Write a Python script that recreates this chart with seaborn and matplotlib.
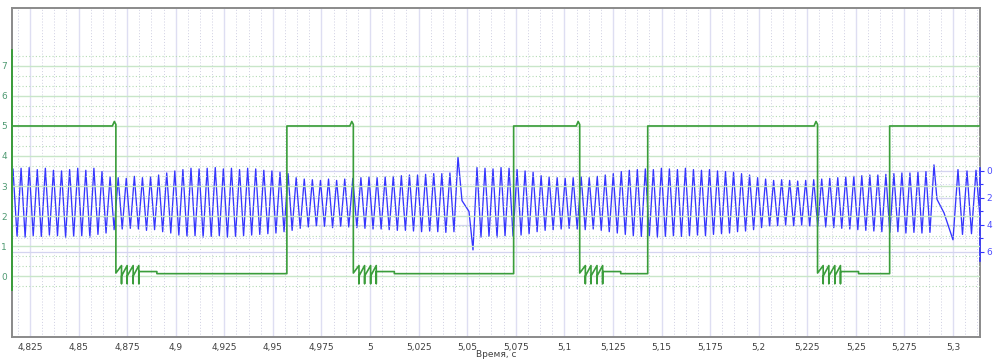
import numpy as np
import pandas as pd
import matplotlib
matplotlib.use("Agg")
import matplotlib.pyplot as plt
import seaborn as sns
from matplotlib.ticker import MultipleLocator, FixedLocator, FuncFormatter

# ---------------- data ----------------
t_min, t_max = 4.81574, 5.3139

# green channel (left axis, V)
green_high = 5.0
green_low = 0.08
green_fall_t = [4.8692, 4.9914, 5.1079, 5.2303]
green_rise_t = [4.9572, 5.0739, 5.1429, 5.2674]
bump_dt = [-0.0018, -0.0008, 0.0]
bump_v = [5.0, 5.15, 5.05]
fall_bottom = 0.1
ring_tooth_dt = [0.0029, 0.0058, 0.0089, 0.0118]
ring_top = 0.35
ring_bottom = -0.25
ring_base = 0.0
ring_settle_v = 0.15
ring_settle_dt = 0.0211

# blue channel (right axis) - tooth peaks / troughs, segment by segment
segA_t = (4.81625, 5.04526)
segA_peaks = [-0.15, -0.2, -0.25, -0.1, -0.2, -0.05, 0.0, -0.1, -0.2, -0.05, -0.2, 0.05,
              0.45, 0.5, 0.55, 0.4, 0.5, 0.45, 0.3, 0.15,
              0.0, -0.1, -0.2, -0.15, -0.2, -0.25, -0.15, -0.2, -0.1, -0.2, -0.15, -0.05, 0.0, 0.1, 0.2,
              0.5, 0.6, 0.65, 0.7, 0.6, 0.7, 0.6, 0.55, 0.5, 0.45,
              0.5, 0.45, 0.4, 0.35, 0.3, 0.3, 0.25, 0.2, 0.2, 0.15,
              -1.05]
segA_troughs = [4.85, 4.9, 4.8, 4.85, 4.75, 4.8, 4.9, 4.85, 4.8, 4.9, 4.7, 4.6,
                4.35, 4.3, 4.25, 4.3, 4.4, 4.35, 4.5, 4.6,
                4.75, 4.85, 4.8, 4.9, 4.85, 4.8, 4.9, 4.85, 4.8, 4.75, 4.7, 4.65, 4.6, 4.5, 4.4,
                4.25, 4.15, 4.1, 4.1, 4.2, 4.1, 4.15, 4.2, 4.25, 4.3,
                4.3, 4.35, 4.4, 4.4, 4.45, 4.5, 4.45, 4.5, 4.55, 4.5]
gapA_t = [5.04732, 5.05092, 5.05298]
gapA_v = [2.2, 3.0, 5.85]

segB_t = (5.05503, 5.29021)
segB_peaks = [-0.25, -0.2, -0.15, -0.25, -0.2, -0.1, 0.0, 0.1,
              0.35, 0.45, 0.5, 0.55, 0.5, 0.45, 0.5, 0.4, 0.3, 0.2,
              0.05, -0.05, -0.1, -0.15, -0.1, -0.2, -0.15, -0.1, -0.2, -0.1, -0.05, -0.1, 0.0, 0.05, 0.1, 0.2, 0.3,
              0.5, 0.6, 0.7, 0.65, 0.7, 0.75, 0.7, 0.65, 0.6, 0.55, 0.5,
              0.45, 0.4, 0.35, 0.3, 0.3, 0.25, 0.2, 0.15, 0.15, 0.1, 0.05,
              -0.45]
segB_troughs = [4.9, 4.85, 4.9, 4.8, 4.85, 4.75, 4.65, 4.5,
                4.4, 4.35, 4.3, 4.25, 4.3, 4.35, 4.3, 4.4, 4.5, 4.6,
                4.7, 4.8, 4.85, 4.8, 4.9, 4.85, 4.8, 4.85, 4.8, 4.75, 4.8, 4.7, 4.65, 4.6, 4.5, 4.45, 4.35,
                4.2, 4.1, 4.05, 4.0, 4.05, 4.0, 4.1, 4.1, 4.15, 4.2, 4.25,
                4.3, 4.35, 4.4, 4.45, 4.5, 4.55, 4.5, 4.6, 4.55, 4.6, 4.55]
gapB_t = [5.29176, 5.29536, 5.30000]
gapB_v = [2.1, 3.1, 5.1]

segC_t = (5.30257, 5.31184)
segC_peaks = [-0.1, 0.0, -0.05]
segC_troughs = [4.7, 4.65]
end_v = 3.4

x_major = 0.025
x_minor_tick = 0.0125
x_minor_grid = 0.00625
left_major = [0, 1, 2, 3, 4, 5, 6, 7]
right_major = [0, 2, 4, 6]
right_minor = [1, 3, 5]
x_label = "Время, с"

# ---------------- build series ----------------
def build_segment(trange, peaks, troughs):
    tp = np.linspace(trange[0], trange[1], len(peaks))
    ts, vs = [], []
    for k in range(len(peaks)):
        ts.append(tp[k]); vs.append(peaks[k])
        if k < len(troughs):
            ts.append((tp[k] + tp[k + 1]) / 2); vs.append(troughs[k])
    return ts, vs

bt, bv = [], []
for seg, gt, gv in [((segA_t, segA_peaks, segA_troughs), gapA_t, gapA_v),
                    ((segB_t, segB_peaks, segB_troughs), gapB_t, gapB_v),
                    ((segC_t, segC_peaks, segC_troughs), [t_max], [end_v])]:
    ts, vs = build_segment(*seg)
    bt += ts + gt
    bv += vs + gv
blue = pd.DataFrame({"t": bt, "v": bv})

gt_, gv_ = [t_min], [green_high]
for f, r in zip(green_fall_t, green_rise_t):
    for dt, v in zip(bump_dt, bump_v):
        gt_.append(f + dt); gv_.append(v)
    gt_.append(f); gv_.append(fall_bottom)
    for i, dt in enumerate(ring_tooth_dt):
        last = i == len(ring_tooth_dt) - 1
        gt_ += [f + dt, f + dt, f + dt]
        gv_ += [ring_top, ring_bottom, ring_settle_v if last else ring_base]
    gt_ += [f + ring_settle_dt, f + ring_settle_dt]
    gv_ += [ring_settle_v, green_low]
    gt_ += [r, r]
    gv_ += [green_low, green_high]
gt_.append(t_max); gv_.append(green_high)
green = pd.DataFrame({"t": gt_, "v": gv_})

# ---------------- plot ----------------
sns.set_theme(style="white")
plt.rcParams["font.family"] = ["DejaVu Sans"]

W, H = 1000, 360
fig = plt.figure(figsize=(W / 100, H / 100), dpi=100)
fig.patch.set_facecolor("white")
pos = [12 / W, 1 - 337 / H, (980 - 12) / W, (337 - 8) / H]

GRAY = "#8a8a8a"
BLUE = "#3535ff"
GREEN = "#3a9d3a"
LGREEN = "#c8e6c8"

# background frame axes (holds the vertical grid)
axf = fig.add_axes(pos, zorder=0)
axf.set_xlim(t_min, t_max)
axf.set_ylim(0, 1)
axf.xaxis.set_major_locator(MultipleLocator(x_major))
axf.xaxis.set_minor_locator(MultipleLocator(x_minor_grid))
axf.grid(which="minor", axis="x", color="#cfcfe2", lw=0.7, ls=(0, (1, 2)))
axf.grid(which="major", axis="x", color="#dedef2", lw=1.0, ls="-")
axf.tick_params(which="both", length=0, labelbottom=False, labelleft=False)
axf.set_yticks([])
for s in axf.spines.values():
    s.set_color(GRAY)
    s.set_linewidth(1.4)

# blue axes (right)
axb = fig.add_axes(pos, zorder=1)
axb.patch.set_visible(False)
sns.lineplot(data=blue, x="t", y="v", ax=axb, color=BLUE, lw=0.95,
             sort=False, estimator=None)
axb.set_xlim(t_min, t_max)
axb.set_ylim(12.30, -12.07)
axb.yaxis.set_major_locator(FixedLocator(right_major))
axb.yaxis.set_minor_locator(FixedLocator(right_minor))
axb.xaxis.set_major_locator(MultipleLocator(x_major))
axb.xaxis.set_minor_locator(MultipleLocator(x_minor_tick))
axb.xaxis.set_major_formatter(FuncFormatter(lambda v, p: f"{round(v, 4):g}".replace(".", ",")))
axb.tick_params(axis="x", which="major", length=3, width=0.8, color="#505050",
                labelsize=6.5, labelcolor="#404040", pad=1, direction="out")
axb.tick_params(axis="x", which="minor", length=2, width=0.8, color="#505050", direction="out")
axb.tick_params(axis="y", which="both", left=False, labelleft=False,
                right=True, labelright=True)
axb.tick_params(axis="y", which="major", length=3, width=0.8, color=BLUE,
                labelsize=6.5, labelcolor="#4a4aff", pad=1.5, direction="out")
axb.tick_params(axis="y", which="minor", length=2, width=0.8, color=BLUE, direction="out")
axb.grid(which="major", axis="y", color="#d4d4f0", lw=0.9, ls="-")
axb.grid(which="minor", axis="y", color="#d0d0ee", lw=0.7, ls=(0, (1, 2)))
for k in ["left", "top", "bottom"]:
    axb.spines[k].set_visible(False)
axb.spines["right"].set_color(BLUE)
axb.spines["right"].set_linewidth(1.2)
axb.spines["right"].set_bounds(-0.2, 6.7)
axb.set_xlabel(x_label, fontsize=6.5, color="#404040", labelpad=-1)
axb.set_ylabel("")

# green axes (left)
axg = fig.add_axes(pos, zorder=2, sharex=axb)
axg.patch.set_visible(False)
sns.lineplot(data=green, x="t", y="v", ax=axg, color=GREEN, lw=1.2,
             sort=False, estimator=None)
axg.set_xlim(t_min, t_max)
axg.set_ylim(-2.03, 8.93)
axg.yaxis.set_major_locator(FixedLocator(left_major))
axg.yaxis.set_minor_locator(FixedLocator([k / 3 for k in range(-1, 23) if k % 3 != 0]))
axg.tick_params(axis="x", which="both", bottom=False, labelbottom=False)
axg.tick_params(axis="y", which="major", length=5, width=0.8, color=GREEN,
                labelsize=6.5, labelcolor="#4e9a72", pad=1, direction="inout")
axg.tick_params(axis="y", which="minor", length=4, width=0.8, color=GREEN, direction="inout")
axg.grid(which="major", axis="y", color=LGREEN, lw=1.0, ls="-")
axg.grid(which="minor", axis="y", color="#b4dcb4", lw=0.8, ls=(0, (1, 2)))
axg.grid(False, axis="x")
for k in ["right", "top", "bottom"]:
    axg.spines[k].set_visible(False)
axg.spines["left"].set_color(GREEN)
axg.spines["left"].set_linewidth(1.4)
axg.spines["left"].set_bounds(-0.47, 7.53)
axg.set_ylabel("")
axg.set_xlabel("")

fig.savefig("out.png", dpi=100, facecolor="white")
